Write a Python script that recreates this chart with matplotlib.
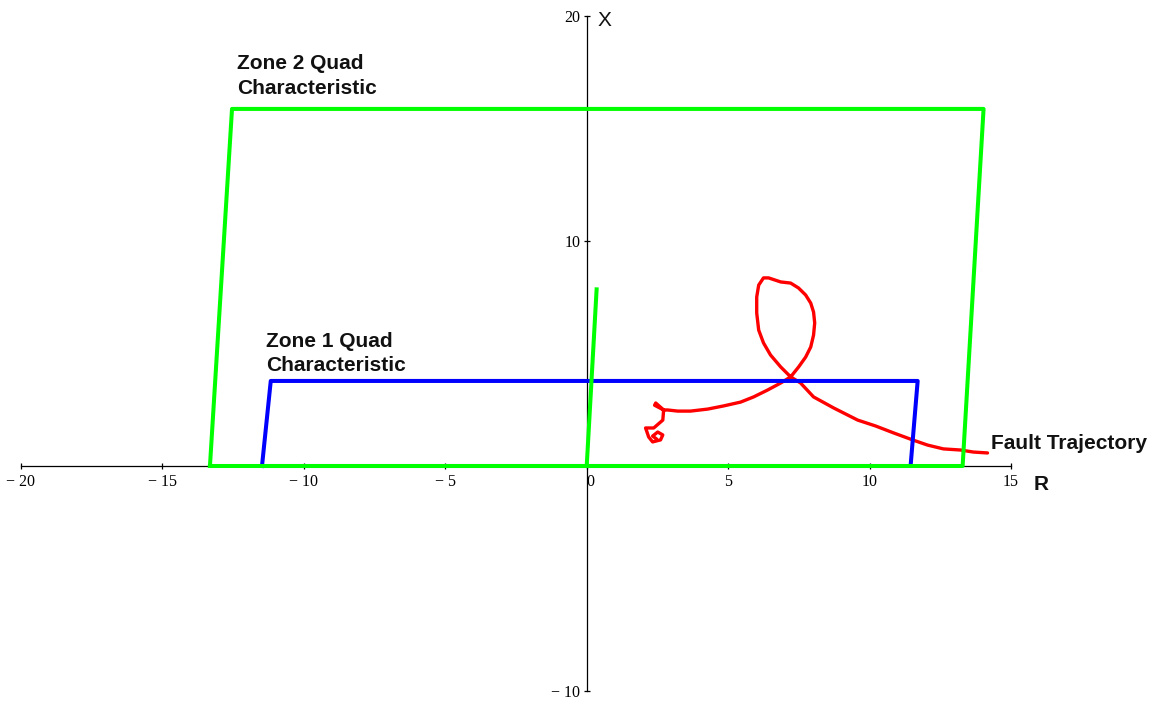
import matplotlib
matplotlib.use("Agg")
import matplotlib.pyplot as plt

# Zone 2 quadrilateral characteristic (R, X) and its directional line
zone2_r = [-13.32, -12.54, 14.03, 13.29, -13.32]
zone2_x = [0.0, 15.87, 15.87, 0.0, 0.0]
zone2_dir_r = [0.0, 0.35]
zone2_dir_x = [0.0, 7.85]

# Zone 1 quadrilateral characteristic
zone1_r = [-11.48, -11.17, 11.70, 11.45, -11.48]
zone1_x = [0.0, 3.78, 3.78, 0.0, 0.0]

# Apparent impedance trajectory during the fault
traj_r = [14.17, 13.67, 13.22, 12.61, 12.05, 11.52, 10.85, 10.21, 9.58, 8.73,
          8.02, 7.56, 7.21, 6.86, 6.50, 6.25, 6.08, 6.01, 6.01, 6.08,
          6.25, 6.43, 6.86, 7.21, 7.49, 7.74, 7.92, 8.02, 8.06, 8.02,
          7.92, 7.74, 7.49, 7.21, 6.86, 6.40, 5.90, 5.44, 4.84, 4.28,
          3.67, 3.22, 2.86, 2.72, 2.44, 2.40, 2.72, 2.69, 2.37, 2.08,
          2.12, 2.19, 2.33, 2.61, 2.69, 2.51, 2.33, 2.47]
traj_x = [0.58, 0.62, 0.71, 0.76, 0.93, 1.16, 1.47, 1.78, 2.04, 2.58,
          3.07, 3.69, 3.96, 4.40, 4.93, 5.47, 6.04, 6.80, 7.51, 8.04,
          8.36, 8.36, 8.18, 8.13, 7.91, 7.60, 7.24, 6.84, 6.36, 5.82,
          5.29, 4.84, 4.40, 3.96, 3.69, 3.38, 3.07, 2.84, 2.67, 2.53,
          2.44, 2.44, 2.49, 2.49, 2.80, 2.70, 2.49, 2.04, 1.69, 1.69,
          1.55, 1.29, 1.07, 1.16, 1.38, 1.51, 1.33, 1.20]

xticks = [-20, -15, -10, -5, 0, 5, 10, 15]
xtick_labels = ["\u2212 20", "\u2212 15", "\u2212 10", "\u2212 5", "0", "5", "10", "15"]
yticks = [-10, 10, 20]
ytick_labels = ["\u2212 10", "10", "20"]

fig = plt.figure(figsize=(11.53, 7.04), dpi=100)
ax = fig.add_axes([21 / 1153, 13 / 704, 990 / 1153, 675 / 704])
ax.set_xlim(-20, 15)
ax.set_ylim(-10, 20)

ax.plot(traj_r, traj_x, color="#ff0000", lw=2.4, zorder=2,
        solid_joinstyle="round", solid_capstyle="round")
ax.plot(zone1_r, zone1_x, color="#0000ff", lw=2.9, zorder=3)
ax.plot(zone2_r, zone2_x, color="#00ff00", lw=2.9, zorder=4)
ax.plot(zone2_dir_r, zone2_dir_x, color="#00ff00", lw=2.9, zorder=4)

# Axes through the origin
for side in ("top", "right"):
    ax.spines[side].set_visible(False)
ax.spines["left"].set_position(("data", 0))
ax.spines["bottom"].set_position(("data", 0))
for side in ("left", "bottom"):
    ax.spines[side].set_linewidth(0.9)
    ax.spines[side].set_zorder(1)

tick_font = dict(family="Liberation Serif", size=11.5)
ax.set_xticks(xticks)
ax.set_xticklabels(xtick_labels, **tick_font)
ax.set_yticks(yticks)
ax.set_yticklabels(ytick_labels, **tick_font)
ax.tick_params(axis="both", direction="inout", length=5, width=0.9, pad=2)
ax.tick_params(axis="x", pad=3)
ax.get_xticklabels()[4].set_horizontalalignment("left")

label_font = dict(family="Liberation Sans", fontsize=15, fontweight="bold", color="#111111")
ax.text(-12.37, 18.3, "Zone 2 Quad\nCharacteristic", va="top", ha="left",
        linespacing=1.35, **label_font)
ax.text(-11.34, 5.95, "Zone 1 Quad\nCharacteristic", va="top", ha="left",
        linespacing=1.35, **label_font)
ax.text(14.28, 0.98, "Fault Trajectory", va="center", ha="left", **label_font)

ax.text(0.39, 19.82, "X", va="center", ha="left", family="Liberation Sans",
        fontsize=15, color="#111111")
ax.text(15.8, -0.8, "R", va="center", ha="left", family="Liberation Sans",
        fontsize=15, fontweight="bold", color="#111111")

fig.savefig("out.png", dpi=100)
